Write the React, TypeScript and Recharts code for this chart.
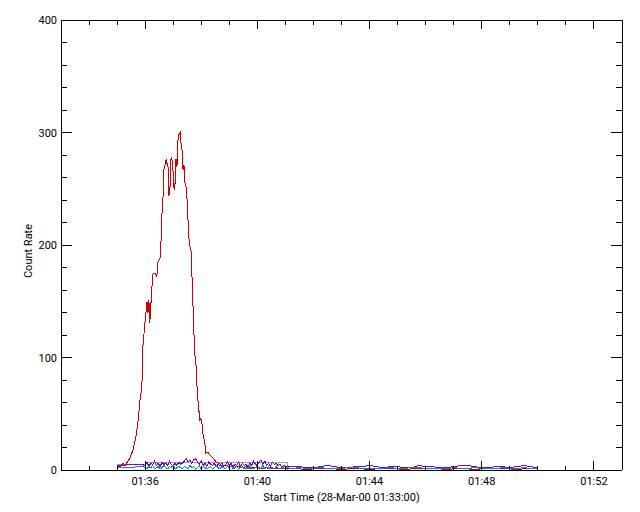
import { LineChart, Line, XAxis, YAxis, ReferenceArea } from 'recharts'

// seconds after 01:33:00
const X_TICKS = [0, 60, 120, 180, 240, 300, 360, 420, 480, 540, 600, 660, 720, 780, 840, 900, 960, 1020, 1080, 1140, 1200]
const X_MAJOR = [180, 420, 660, 900, 1140]
const Y_TICKS = [0, 20, 40, 60, 80, 100, 120, 140, 160, 180, 200, 220, 240, 260, 280, 300, 320, 340, 360, 380, 400]
const Y_MAJOR = [0, 100, 200, 300, 400]

// red channel: flare curve
const redTimes = [
  120, 137, 148, 154, 160, 165, 169, 173, 175, 180,
  184, 186, 188, 190, 195, 197, 201, 205, 207, 212,
  214, 216, 218, 220, 225, 227, 229, 231, 233, 235,
  237, 240, 242, 244, 246, 248, 250, 252, 255, 257,
  259, 261, 263, 265, 267, 269, 272, 274, 276, 278,
  280, 282, 284, 287, 289, 291, 293, 295, 297, 299,
  302, 304, 306, 308, 310, 314, 319, 325, 332, 338,
  344, 353, 361,
  365, 370, 375, 380, 385, 390, 395, 400, 405, 410,
  415, 420, 425, 430, 435, 440, 445, 450, 455, 460,
  465, 470, 475, 480,
]
const redRates = [
  3, 4, 11, 18, 29, 44, 62, 74, 109, 133,
  149, 140, 151, 131, 166, 175, 175, 172, 184, 189,
  204, 228, 240, 267, 276, 272, 269, 244, 249, 276,
  278, 264, 249, 255, 276, 269, 293, 298, 300, 289,
  284, 267, 271, 255, 253, 246, 220, 204, 198, 196,
  175, 151, 124, 98, 93, 74, 62, 53, 44, 46,
  40, 31, 27, 22, 15, 16, 13, 11, 7, 6,
  4, 4, 3,
  3, 2, 3, 3, 2, 2, 3, 2, 1, 2,
  2, 3, 2, 1, 2, 2, 1, 2, 1, 2,
  1, 1, 2, 1,
]

// first minute of purple / teal channels
const purpleEarlyTimes = [120, 126, 132, 140, 176]
const purpleEarly = [3.5, 4, 5.5, 5, 4.5]
const tealEarlyTimes = [120, 150, 176]
const tealEarly = [2, 2.5, 3]

// 01:36 - 01:41, 4 s samples
const NOISE_START = 180
const NOISE_STEP = 4
const purpleNoise = [
  4, 7, 3, 6, 5, 8, 4, 6, 3, 7,
  5, 6, 4, 8, 5, 3, 6, 4, 7, 5,
  6, 8, 10, 7, 9, 6, 9, 10, 7, 5,
  8, 4, 6, 3, 7, 5, 4, 6, 3, 5,
  4, 6, 3, 5, 7, 4, 6, 3, 5, 4,
  7, 3, 6, 4, 5, 3, 6, 4, 8, 5,
  4, 7, 9, 5, 8, 4, 6, 3, 7, 5,
  6, 4, 5, 3, 4, 3,
]
const tealNoise = [
  2, 1, 3, 2, 4, 1, 2, 3, 1, 2,
  4, 2, 1, 3, 2, 5, 1, 2, 3, 2,
  1, 3, 2, 1, 4, 2, 3, 1, 2, 4,
  1, 3, 2, 1, 2, 3, 1, 2, 4, 2,
  1, 3, 2, 1, 3, 2, 4, 1, 2, 3,
  1, 2, 3, 1, 2, 1, 3, 2, 1, 2,
  3, 1, 2, 4, 1, 2, 3, 1, 2, 1,
  3, 2, 1, 2, 1, 2,
]

// 01:41 - 01:50, 15 s samples
const QUIET_START = 495
const QUIET_STEP = 15
const purpleQuiet = [
  3, 3, 2, 2, 3, 4, 3, 2, 2, 3,
  3, 4, 3, 2, 3, 3, 2, 2, 4, 3,
  3, 2, 2, 3, 4, 4, 3, 2, 2, 3,
  3, 2, 3, 4, 3, 2,
]
const tealQuiet = [
  1.5, 2, 1.5, 1.5, 2, 1.5, 1, 1.5, 2, 2,
  1.5, 1.5, 1, 1.5, 2, 1.5, 1.5, 2, 2, 1.5,
  1, 1.5, 1.5, 2, 1.5, 1.5, 2, 1.5, 1, 1.5,
  2, 1.5, 1.5, 2, 1.5, 1,
]
const redQuiet = [
  1, 1, 0.5, 1, 1, 1.5, 1, 0.5, 1, 1,
  1, 0.5, 1, 1.5, 1, 1, 0.5, 1, 1, 1,
  1.5, 1, 0.5, 1, 1, 1, 0.5, 1, 1, 1.5,
  1, 1, 0.5, 1, 1, 1,
]

// background intervals (grey boxes)
const boxes = [
  { t1: 120, t2: 180, top: 5 },
  { t1: 180, t2: 485, top: 6.5 },
]

const RED = '#cc0000'
const PURPLE = '#7a00d9'
const TEAL = '#0090c0'
const GREY = '#a0a0a0'
const FONT = 'Roboto, sans-serif'

const pairs = (ts: number[], vs: number[]) => ts.map((t, i) => ({ t, v: vs[i] }))
const grid = (start: number, step: number, vs: number[]) => vs.map((v, i) => ({ t: start + i * step, v }))

const redData = [...pairs(redTimes, redRates), ...grid(QUIET_START, QUIET_STEP, redQuiet)]
const purpleData = [
  ...pairs(purpleEarlyTimes, purpleEarly),
  ...grid(NOISE_START, NOISE_STEP, purpleNoise),
  ...grid(QUIET_START, QUIET_STEP, purpleQuiet),
]
const tealData = [
  ...pairs(tealEarlyTimes, tealEarly),
  ...grid(NOISE_START, NOISE_STEP, tealNoise),
  ...grid(QUIET_START, QUIET_STEP, tealQuiet),
]

const fmtTime = (t: number) => {
  const m = 33 + Math.round(t / 60)
  return `01:${String(m).padStart(2, '0')}`
}

// inward IDL-style ticks, drawn from the axis line into the plot
const XTick = ({ x, y, payload, side }: any) => {
  const major = X_MAJOR.includes(payload.value)
  const len = major ? 9 : 4.5
  const dir = side === 'bottom' ? -1 : 1
  return (
    <g>
      <line x1={x} y1={y} x2={x} y2={y + dir * len} stroke="#000" shapeRendering="crispEdges" />
      {side === 'bottom' && major && (
        <text x={x} y={y + 15} textAnchor="middle" fontSize={11} fontFamily={FONT} fill="#000">
          {fmtTime(payload.value)}
        </text>
      )}
    </g>
  )
}

const YTick = ({ x, y, payload, side }: any) => {
  const major = Y_MAJOR.includes(payload.value)
  const len = major ? 11 : 6
  const dir = side === 'left' ? 1 : -1
  return (
    <g>
      <line x1={x} y1={y} x2={x + dir * len} y2={y} stroke="#000" shapeRendering="crispEdges" />
      {side === 'left' && major && (
        <text x={x - 4} y={y + 4} textAnchor="end" fontSize={11} fontFamily={FONT} fill="#000">
          {payload.value}
        </text>
      )}
    </g>
  )
}

const YTitle = ({ viewBox }: any) => {
  const cx = viewBox.x + 32
  const cy = viewBox.y + viewBox.height / 2 + 6
  return (
    <text x={cx} y={cy} transform={`rotate(-90 ${cx} ${cy})`} textAnchor="middle"
      fontSize={11} fontFamily={FONT} fill="#000">
      Count Rate
    </text>
  )
}

export default function App() {
  return (
    <div style={{ position: 'absolute', left: 0, top: 0, width: 640, height: 512, background: '#fff' }}>
      <LineChart width={640} height={512} margin={{ top: 19, right: 17, left: 0, bottom: 0 }}>
        <XAxis type="number" dataKey="t" domain={[0, 1200]} allowDataOverflow ticks={X_TICKS}
          interval={0} height={42} tickSize={0} tickMargin={0} tickLine={false}
          axisLine={{ stroke: '#000', shapeRendering: 'crispEdges' }} tick={(p: any) => <XTick {...p} side="bottom" />}
          label={{ value: 'Start Time (28-Mar-00 01:33:00)', position: 'insideBottom', offset: 11,
            fontSize: 11, fontFamily: FONT, fill: '#000' }} />
        <XAxis xAxisId="top" orientation="top" type="number" dataKey="t" domain={[0, 1200]} allowDataOverflow
          ticks={X_TICKS} interval={0} height={1} tickSize={0} tickMargin={0} tickLine={false}
          axisLine={{ stroke: '#000', shapeRendering: 'crispEdges' }} tick={(p: any) => <XTick {...p} side="top" />} />
        <YAxis type="number" domain={[0, 400]} allowDataOverflow ticks={Y_TICKS} interval={0}
          width={61} tickSize={0} tickMargin={0} tickLine={false}
          axisLine={{ stroke: '#000', shapeRendering: 'crispEdges' }}
          tick={(p: any) => <YTick {...p} side="left" />} label={{ content: <YTitle /> }} />
        <YAxis yAxisId="right" orientation="right" type="number" domain={[0, 400]} allowDataOverflow
          ticks={Y_TICKS} interval={0} width={1} tickSize={0} tickMargin={0} tickLine={false}
          axisLine={{ stroke: '#000', shapeRendering: 'crispEdges' }}
          tick={(p: any) => <YTick {...p} side="right" />} />
        {boxes.map((b, i) => (
          <ReferenceArea key={i} x1={b.t1} x2={b.t2} y1={0} y2={b.top} stroke={GREY} strokeWidth={1}
            fill="none" fillOpacity={0} ifOverflow="visible" shapeRendering="crispEdges" />
        ))}
        <Line data={redData} dataKey="v" type="linear" stroke={RED} strokeWidth={1} dot={false}
          shapeRendering="crispEdges" isAnimationActive={false} />
        <Line data={purpleData} dataKey="v" type="linear" stroke={PURPLE} strokeWidth={1} dot={false}
          shapeRendering="crispEdges" isAnimationActive={false} />
        <Line data={tealData} dataKey="v" type="linear" stroke={TEAL} strokeWidth={1} dot={false}
          shapeRendering="crispEdges" isAnimationActive={false} />
      </LineChart>
    </div>
  )
}
